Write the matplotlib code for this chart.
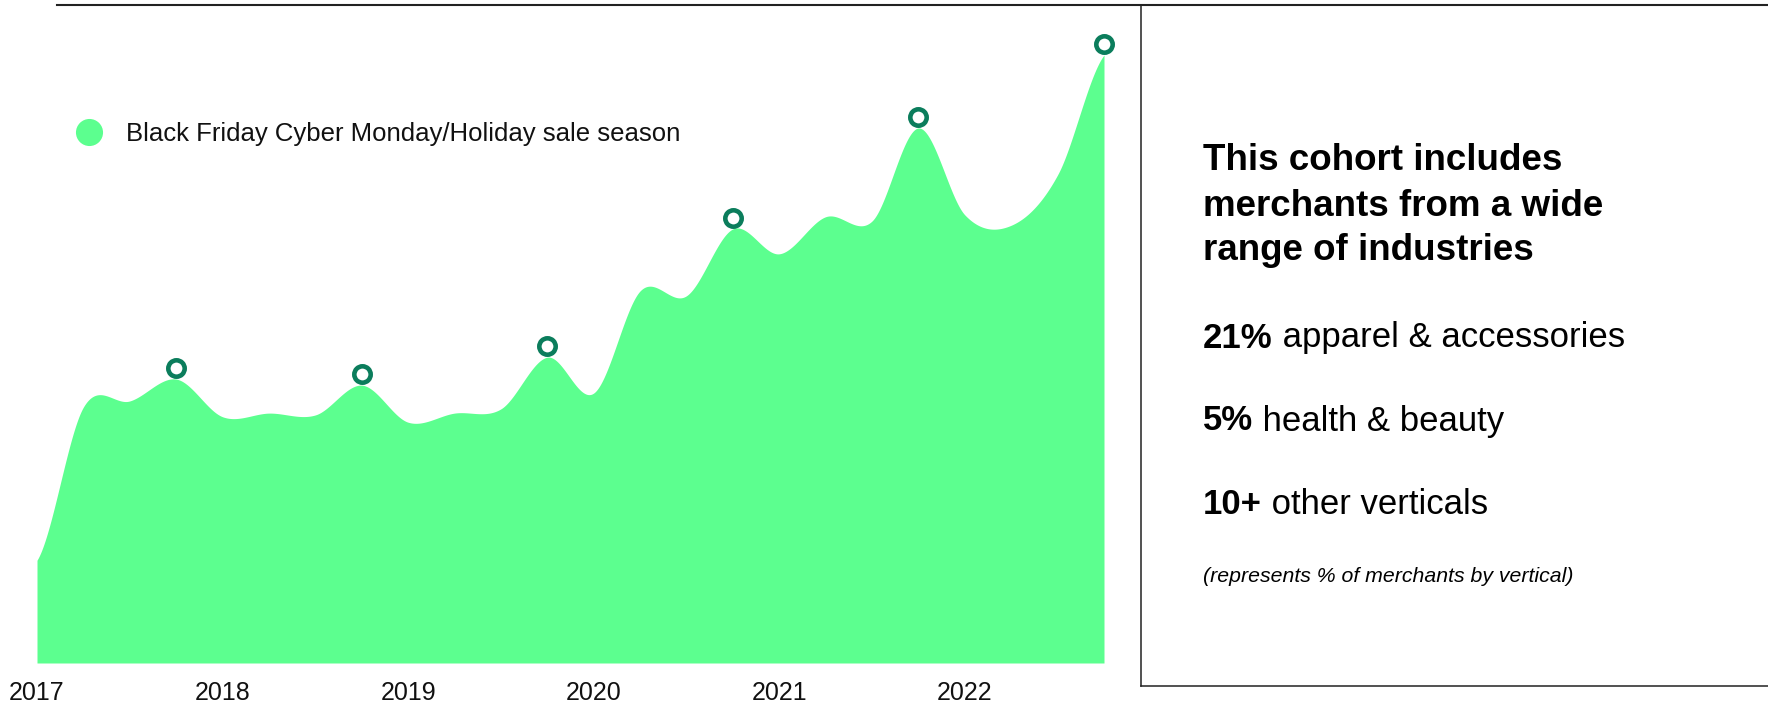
import numpy as np
import matplotlib
matplotlib.use("Agg")
import matplotlib.pyplot as plt
from matplotlib.lines import Line2D
from matplotlib.transforms import offset_copy

plt.rcParams["font.family"] = ["Liberation Sans", "DejaVu Sans"]

# quarterly sales index for the cohort (Q4 2022 = 100)
quarters = np.arange(2017, 2023, 0.25)
sales_index = [16.9, 42.1, 43.1, 46.7, 40.5, 41.1, 40.8, 45.7,
               39.6, 41.1, 41.8, 50.3, 44.4, 61.2, 60.4, 71.4,
               67.3, 73.4, 72.7, 88.0, 73.7, 72.0, 80.3, 100.0]
years = [2017, 2018, 2019, 2020, 2021, 2022]

legend_label = "Black Friday Cyber Monday/Holiday sale season"
heading = ["This cohort includes", "merchants from a wide", "range of industries"]
verticals = [("21%", "apparel & accessories"),
             ("5%", "health & beauty"),
             ("10+", "other verticals")]
footnote = "(represents % of merchants by vertical)"

GREEN = "#5cff8f"
DARK = "#0b7d5c"
W, H = 1768, 703


def cardinal(x, y, n=40):
    """Uniform cardinal (Catmull-Rom) spline through every point."""
    x, y = np.asarray(x, float), np.asarray(y, float)
    yp = np.concatenate([[y[0]], y, [y[-1]]])
    m = (yp[2:] - yp[:-2]) / 2
    t = np.linspace(0, 1, n, endpoint=False)
    h00 = 2 * t**3 - 3 * t**2 + 1
    h10 = t**3 - 2 * t**2 + t
    h01 = -2 * t**3 + 3 * t**2
    h11 = t**3 - t**2
    xs, ys = [], []
    for i in range(len(x) - 1):
        xs.append(x[i] + t * (x[i + 1] - x[i]))
        ys.append(h00 * y[i] + h10 * m[i] + h01 * y[i + 1] + h11 * m[i + 1])
    xs.append([x[-1]]); ys.append([y[-1]])
    return np.concatenate(xs), np.concatenate(ys)


def fx(px):
    return px / W


def fy(py):
    return 1 - py / H


fig = plt.figure(figsize=(W / 100, H / 100), dpi=100)
ax = fig.add_axes([fx(37), fy(663), fx(1104) - fx(37), fy(55) - fy(663)])

xs, ys = cardinal(quarters, sales_index)
ax.fill_between(xs, 0, ys, color=GREEN, lw=0)

# holiday-quarter markers, lifted a little above the curve
holiday = np.isclose(quarters % 1, 0.75)
lift = offset_copy(ax.transData, fig=fig, y=8, units="points")
ax.plot(quarters[holiday], np.array(sales_index)[holiday], "o", ms=11.8, mew=3.3,
        mfc="white", mec=DARK, transform=lift, clip_on=False, zorder=5)

ax.set_xlim(2017, 2022.75)
ax.set_ylim(0, 100)
ax.set_xticks(years)
ax.set_xticklabels([str(y) for y in years], fontsize=18, color="#111")
ax.tick_params(axis="x", length=0, pad=13)
ax.set_yticks([])
for s in ax.spines.values():
    s.set_visible(False)

# legend
fig.add_artist(Line2D([fx(89)], [fy(132)], marker="o", ms=19.5, color=GREEN, mew=0))
fig.text(fx(126), fy(141), legend_label, fontsize=18.5, color="#111", va="baseline")

# frame lines
fig.add_artist(Line2D([fx(57), 1], [fy(4.5), fy(4.5)], color="#222", lw=1.5))
fig.add_artist(Line2D([fx(1141), fx(1141)], [fy(4.5), fy(686)], color="#222", lw=1.1))
fig.add_artist(Line2D([fx(1141), 1], [fy(686), fy(686)], color="#222", lw=1.1))

# right-hand panel
for line, base in zip(heading, [170, 216, 260]):
    fig.text(fx(1203), fy(base), line, fontsize=26.5, fontweight="bold", va="baseline")

for (num, label), base in zip(verticals, [347.5, 430.5, 513.5]):
    t = fig.text(fx(1203), fy(base), num, fontsize=25, fontweight="bold", va="baseline")
    ax.annotate(" " + label, xy=(1, 0), xycoords=t, fontsize=25, va="bottom", ha="left")

fig.text(fx(1203), fy(582), footnote, fontsize=15.3, style="italic", va="baseline")

fig.savefig("out.png", dpi=100)
